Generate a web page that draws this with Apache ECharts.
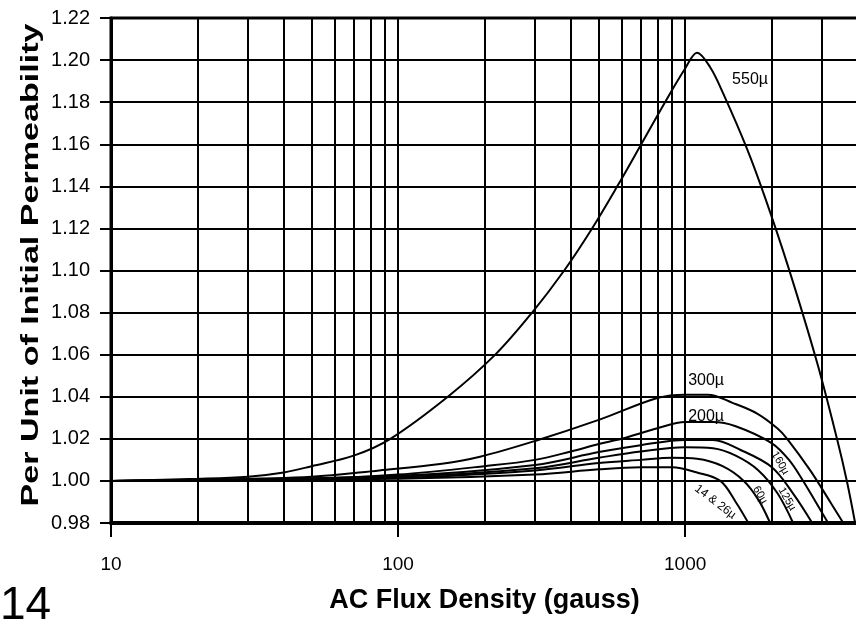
<!DOCTYPE html>
<html><head><meta charset="utf-8">
<script src="https://cdn.jsdelivr.net/npm/echarts@6/dist/echarts.min.js"></script>
<style>html,body{margin:0;padding:0;background:#fff}#c{width:856px;height:621px}</style>
</head><body><div id="c"></div>
<script>
// Axis ranges / ticks
const xRange = [10, 4000];
const yRange = [0.98, 1.22];
const yStep = 0.02;
const minorGridX = [20,30,40,50,60,70,80,90,200,300,400,500,600,700,800,900,2000,3000];

// Curves: [AC flux density (gauss), per unit of initial permeability]
const mu550 = [[10,1.000],[20,1.001],[30,1.002],[40,1.004],[50,1.007],[70,1.012],[94,1.020],[149,1.040],[218,1.060],[293,1.080],[379,1.100],[474,1.120],[580,1.140],[703,1.160],[851,1.180],[1000,1.196],[1100,1.2035],[1222,1.1966],[1355,1.1843],[1644,1.1577],[1901,1.1344],[2287,1.1016],[2884,1.056],[3388,1.0194],[3664,0.9995],[3909,0.980]];
const mu300 = [[10,1.000],[20,1.0005],[50,1.002],[86,1.005],[140,1.008],[193,1.0115],[300,1.019],[500,1.029],[800,1.0394],[1000,1.041],[1200,1.041],[1468,1.037],[1782,1.032],[2094,1.025],[2266,1.020],[2727,1.005],[3201,0.990],[3555,0.980]];
const mu200 = [[10,1.000],[50,1.001],[100,1.003],[200,1.007],[300,1.010],[400,1.014],[500,1.0175],[600,1.020],[800,1.025],[1000,1.028],[1250,1.028],[1500,1.026],[2000,1.018],[2300,1.010],[2576,1.000],[2850,0.990],[3148,0.980]];
const mu160 = [[10,1.000],[100,1.0025],[300,1.0076],[500,1.0137],[700,1.017],[1000,1.0195],[1250,1.0195],[1560,1.0147],[2000,1.0066],[2377,0.994],[2771,0.980]];
const mu125 = [[10,1.000],[100,1.002],[300,1.006],[500,1.011],[700,1.014],[1000,1.016],[1250,1.0155],[1500,1.012],[1800,1.005],[2100,0.994],[2377,0.980]];
const mu60 = [[10,1.000],[100,1.0015],[300,1.005],[500,1.0085],[700,1.010],[900,1.011],[1100,1.0105],[1350,1.007],[1600,1.000],[1800,0.991],[1977,0.980]];
const mu14_26 = [[10,1.000],[100,1.001],[300,1.003],[500,1.0055],[700,1.0065],[900,1.0065],[1100,1.004],[1326,1.000],[1500,0.990],[1660,0.980]];

// Curve labels: [text, gauss, value, rotation, fontSize]
const curveLabels = {
  mu550: ['550µ', 1683, 1.1905, 0, 16],
  mu300: ['300µ', 1183, 1.0475, 0, 16],
  mu200: ['200µ', 1183, 1.0308, 0, 16],
  mu160: ['160µ', 2142, 1.0085, -60, 11],
  mu125: ['125µ', 2265, 0.9914, -60, 11],
  mu60: ['60µ', 1824, 0.9933, -60, 11],
  mu14_26: ['14 & 26µ', 1274, 0.990, -37, 12]
};

const xTitle = 'AC Flux Density (gauss)';
const yTitle = 'Per Unit of Initial Permeability';
const pageNumber = '14';

const curves = { mu550, mu300, mu200, mu160, mu125, mu60, mu14_26 };
const FONT = '"Liberation Sans", Arial, sans-serif';

const series = Object.keys(curves).map((k, i) => {
  const lab = curveLabels[k];
  const s = {
    name: k, type: 'line', data: curves[k], showSymbol: false, symbol: 'none',
    smooth: 0.35,
    lineStyle: { color: '#000', width: 2 }, silent: true, z: 5,
    markPoint: {
      symbol: 'circle', symbolSize: 0, silent: true, animation: false,
      data: [{ coord: [lab[1], lab[2]], value: lab[0] }],
      label: { show: true, position: 'inside', formatter: lab[0], color: '#000',
               fontSize: lab[4], fontFamily: FONT, rotate: lab[3] }
    }
  };
  if (i === 0) {
    s.markLine = {
      silent: true, animation: false, symbol: ['none', 'none'],
      label: { show: false },
      lineStyle: { color: '#000', width: 2, type: 'solid' },
      data: minorGridX.map(x => ({ xAxis: x }))
    };
  }
  return s;
});

const chart = echarts.init(document.getElementById('c'));
chart.setOption({
  animation: false,
  backgroundColor: '#fff',
  grid: { left: 111, top: 18, right: -2, bottom: 98, containLabel: false, outerBoundsMode: 'none',
          show: true, borderColor: '#000', borderWidth: 3, backgroundColor: 'transparent' },
  xAxis: {
    type: 'log', logBase: 10, min: xRange[0], max: xRange[1],
    axisLine: { show: true, lineStyle: { color: '#000', width: 4 } },
    axisTick: { show: true, length: 14, lineStyle: { color: '#000', width: 2 } },
    axisLabel: { color: '#000', fontSize: 19, fontFamily: FONT, margin: 32, showMaxLabel: false,
                 formatter: v => String(Math.round(v)) },
    splitLine: { show: true, lineStyle: { color: '#000', width: 2 } },
    minorTick: { show: false }, minorSplitLine: { show: false },
    name: xTitle, nameLocation: 'middle', nameGap: 64,
    nameTextStyle: { color: '#000', fontSize: 27, fontWeight: 'bold', fontFamily: FONT }
  },
  yAxis: {
    type: 'value', min: yRange[0], max: yRange[1], interval: yStep,
    axisLine: { show: true, lineStyle: { color: '#000', width: 3 } },
    axisTick: { show: true, length: 11, lineStyle: { color: '#000', width: 2 } },
    axisLabel: { color: '#000', fontSize: 20, fontFamily: FONT, margin: 21,
                 formatter: v => v.toFixed(2) },
    splitLine: { show: true, lineStyle: { color: '#000', width: 2 } }
  },
  graphic: [
    { type: 'text', x: 31, y: 265, rotation: Math.PI / 2, scaleX: 1.42, silent: true,
      style: { text: yTitle, font: 'bold 24px ' + FONT, fill: '#000', textAlign: 'center', textVerticalAlign: 'middle' } },
    { type: 'text', left: 0, top: 583, silent: true,
      style: { text: pageNumber, font: '46px ' + FONT, fill: '#000' } }
  ],
  series
});
</script></body></html>
